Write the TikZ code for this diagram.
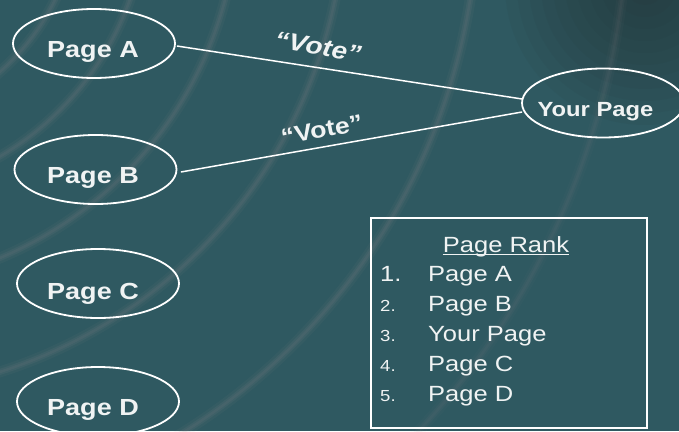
\documentclass[tikz,border=0pt]{standalone}
\usepackage{fontspec}
\setmainfont{Liberation Sans}[FakeStretch=1.16]
\usetikzlibrary{shapes.geometric,calc}
\definecolor{bg}{RGB}{47,89,97}
\definecolor{streak}{RGB}{160,140,145}
\definecolor{corner}{RGB}{38,42,42}
\definecolor{txt}{RGB}{240,243,243}
\tikzset{
  pg/.style={draw=white, line width=1.8pt, ellipse, minimum width=162pt, minimum height=69pt, inner sep=0pt},
  pgtext/.style={text=txt, font=\fontsize{23.3}{28}\selectfont\bfseries, inner sep=0pt, anchor=base},
  conn/.style={draw=white, line width=1.5pt},
  vote/.style={text=txt, inner sep=0pt},
  rankbox/.style={draw=white, line width=1.8pt, minimum width=276pt, minimum height=210pt, inner sep=0pt},
  listtxt/.style={text=txt, font=\fontsize{22}{26}\selectfont, inner sep=0pt, anchor=base west},
  numbig/.style={text=txt, font=\fontsize{22}{26}\selectfont, inner sep=0pt, anchor=base west},
  numsmall/.style={text=txt, font=\fontsize{16}{19}\selectfont, inner sep=0pt, anchor=base west},
  streakline/.style={draw=streak}
}
\begin{document}
\begin{tikzpicture}[x=1pt,y=-1pt]
\useasboundingbox (0,0) rectangle (679,431);
% background
\fill[bg] (0,0) rectangle (679,431);
\begin{scope}
  \clip (0,0) rectangle (679,431);
  \foreach \r in {140,128,...,20} {
    \fill[corner, opacity=0.055] (645,-15) circle (\r);
  }
  \foreach \r/\o in {228/1,297/1,388/1,495/1,628/1,778/0.6} {
    \draw[streakline, line width=11pt, opacity=0.06*\o] (-150,-100) circle (\r);
    \draw[streakline, line width=6pt, opacity=0.09*\o] (-150,-100) circle (\r);
    \draw[streakline, line width=2.5pt, opacity=0.09*\o] (-150,-100) circle (\r);
  }
\end{scope}

% page ellipses
\node[pg] (A) at (94,43.5) {};
\node[pg] (B) at (95.5,169.5) {};
\node[pg] (C) at (98,283.5) {};
\node[pg] (D) at (98,401.5) {};
\node[pg] (Y) at (603,103) {};

\node[pgtext] (tA) at (93,57) {Page A};
\node[pgtext] (tB) at (93,183) {Page B};
\node[pgtext] (tC) at (93,299) {Page C};
\node[pgtext] (tD) at (93,415) {Page D};
\node[pgtext, font=\fontsize{20.5}{25}\selectfont\bfseries] (tY) at (595.5,116.7) {Your Page};

% connectors
\draw[conn] ($(A.east)+(1,2.5)$) -- ($(Y.west)+(1,-4)$);
\draw[conn] ($(B.east)+(3.5,2.5)$) -- ($(Y.west)+(1,9)$);

% vote labels
\node[vote, font=\fontsize{24}{28}\selectfont\bfseries\itshape, rotate=-10] (v1) at (318,47) {“Vote”};
\node[vote, font=\fontsize{23}{27}\selectfont\bfseries, rotate=11] (v2) at (322,130) {“Vote”};

% page rank box
\node[rankbox] (R) at (508.8,323.3) {};
\node[text=txt, font=\fontsize{22}{26}\selectfont, inner sep=0pt, anchor=base] (pr) at (506,252.3) {Page Rank};
\draw[txt, line width=1.4pt] ($(pr.base west)+(0,2.2)$) -- ($(pr.base east)+(0,2.2)$);

\node[numbig]   (n1) at (380,281.7) {1.};
\node[numsmall] (n2) at (380,311.7) {2.};
\node[numsmall] (n3) at (380,341.7) {3.};
\node[numsmall] (n4) at (380,371.7) {4.};
\node[numsmall] (n5) at (380,401.7) {5.};
\node[listtxt] (l1) at (428,281.7) {Page A};
\node[listtxt] (l2) at (428,311.7) {Page B};
\node[listtxt] (l3) at (428,341.7) {Your Page};
\node[listtxt] (l4) at (428,371.7) {Page C};
\node[listtxt] (l5) at (428,401.7) {Page D};
\end{tikzpicture}
\end{document}
